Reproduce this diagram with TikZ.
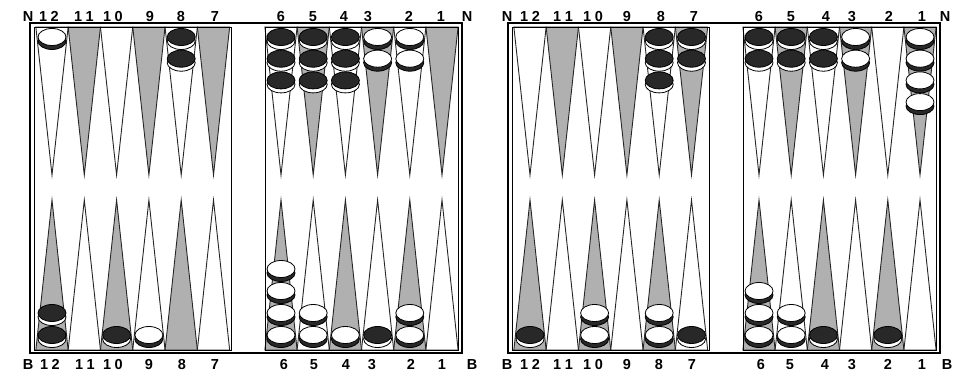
\documentclass[tikz,border=0pt]{standalone}
\usepackage{fontspec}
\setmainfont{Liberation Sans}
\definecolor{ptgray}{RGB}{176,176,176}
\definecolor{chkdark}{RGB}{40,40,40}
\tikzset{
  pt/.style={draw=black!85, line width=0.9pt, fill=white, line join=miter},
  ptg/.style={pt, fill=ptgray},
  frameout/.style={draw=black, line width=2pt},
  framein/.style={draw=black, line width=0.9pt},
  faceb/.style={fill=chkdark, draw=black, line width=0.8pt},
  rimb/.style={fill=white, draw=black, line width=0.8pt},
  facew/.style={fill=white, draw=black, line width=0.8pt},
  rimw/.style={fill=chkdark, draw=black, line width=0.8pt},
  lbl/.style={font=\bfseries\fontsize{14.5}{14.5}\selectfont, inner sep=0pt, anchor=base},
}
\newcommand\twod[2]{#1\kern3.5pt#2}
\newcommand\ptx[2]{%
  \ifnum#2>6 \pgfmathsetmacro\X{#1+52+32.3*(12-#2)}\else\pgfmathsetmacro\X{#1+281+32.2*(6-#2)}\fi}
% offset, point, side (0 top / 1 bottom), count, colour (b/w)
\newcommand\stk[5]{%
  \ptx{#1}{#2}%
  \foreach \k in {1,...,#4}{%
    \ifnum#3=0 \pgfmathsetmacro\Y{37+21.7*(\k-1)}\else\pgfmathsetmacro\Y{335-22*(\k-1)}\fi
    \draw[rim#5] (\X,\Y+4) ellipse[x radius=14pt, y radius=8.5pt];
    \draw[face#5] (\X,\Y) ellipse[x radius=14pt, y radius=8.5pt];
  }}
\begin{document}
\begin{tikzpicture}[x=1pt,y=-1pt]
\useasboundingbox (0,0) rectangle (963,371);
\fill[white] (0,0) rectangle (963,371);
\foreach \o in {0,478}{
  \draw[frameout] (\o+30,23) rectangle (\o+462,353);
  \draw[framein] (\o+34,27) rectangle (\o+231,350);
  \draw[framein] (\o+265,27) rectangle (\o+458,350);
  \foreach \i/\j in {0/1,2/3,4/5}{
    % left half
    \pgfmathsetmacro\a{\o+52+32.3*\i}
    \pgfmathsetmacro\b{\o+52+32.3*\j}
    \draw[pt]  (\a-16.15,27) -- (\a,175) -- (\a+16.15,27) -- cycle;
    \draw[ptg] (\b-16.15,27) -- (\b,175) -- (\b+16.15,27) -- cycle;
    \draw[ptg] (\a-16.15,350) -- (\a,200) -- (\a+16.15,350) -- cycle;
    \draw[pt]  (\b-16.15,350) -- (\b,200) -- (\b+16.15,350) -- cycle;
    % right half
    \pgfmathsetmacro\c{\o+281+32.2*\i}
    \pgfmathsetmacro\d{\o+281+32.2*\j}
    \draw[pt]  (\c-16.1,27) -- (\c,175) -- (\c+16.1,27) -- cycle;
    \draw[ptg] (\d-16.1,27) -- (\d,175) -- (\d+16.1,27) -- cycle;
    \draw[ptg] (\c-16.1,350) -- (\c,200) -- (\c+16.1,350) -- cycle;
    \draw[pt]  (\d-16.1,350) -- (\d,200) -- (\d+16.1,350) -- cycle;
  }
  \draw[framein] (\o+34,27) rectangle (\o+231,350);
  \draw[framein] (\o+265,27) rectangle (\o+458,350);
}
% board 1 checkers
\stk{0}{12}{0}{1}{w}
\stk{0}{8}{0}{2}{b}
\stk{0}{6}{0}{3}{b}
\stk{0}{5}{0}{3}{b}
\stk{0}{4}{0}{3}{b}
\stk{0}{3}{0}{2}{w}
\stk{0}{2}{0}{2}{w}
\stk{0}{12}{1}{2}{b}
\stk{0}{10}{1}{1}{b}
\stk{0}{9}{1}{1}{w}
\stk{0}{6}{1}{4}{w}
\stk{0}{5}{1}{2}{w}
\stk{0}{4}{1}{1}{w}
\stk{0}{3}{1}{1}{b}
\stk{0}{2}{1}{2}{w}
% board 2 checkers
\stk{478}{8}{0}{3}{b}
\stk{478}{7}{0}{2}{b}
\stk{478}{6}{0}{2}{b}
\stk{478}{5}{0}{2}{b}
\stk{478}{4}{0}{2}{b}
\stk{478}{3}{0}{2}{w}
\stk{478}{1}{0}{4}{w}
\stk{478}{12}{1}{1}{b}
\stk{478}{10}{1}{2}{w}
\stk{478}{8}{1}{2}{w}
\stk{478}{7}{1}{1}{b}
\stk{478}{6}{1}{3}{w}
\stk{478}{5}{1}{2}{w}
\stk{478}{4}{1}{1}{b}
\stk{478}{2}{1}{1}{b}
% labels
\foreach \x/\t [count=\n] in {28/N,49/\twod12,84/\twod11,113/\twod10,150/9,181/8,215/7,281/6,313/5,344/4,368/3,409/2,441/1,467/N,
  507/N,530/\twod12,563/\twod11,593/\twod10,627/9,661/8,694/7,759/6,791/5,826/4,852/3,889/2,922/1,945/N}
  \node[lbl] (top\n) at (\x,22) {\t};
\foreach \x/\t [count=\n] in {28/B,50/\twod12,85/\twod11,113/\twod10,149/9,182/8,215/7,284/6,314/5,346/4,372/3,411/2,442/1,472/B,
  507/B,530/\twod12,563/\twod11,593/\twod10,627/9,659/8,692/7,761/6,790/5,825/4,852/3,888/2,922/1,947/B}
  \node[lbl] (bot\n) at (\x,369) {\t};
\end{tikzpicture}
\end{document}
